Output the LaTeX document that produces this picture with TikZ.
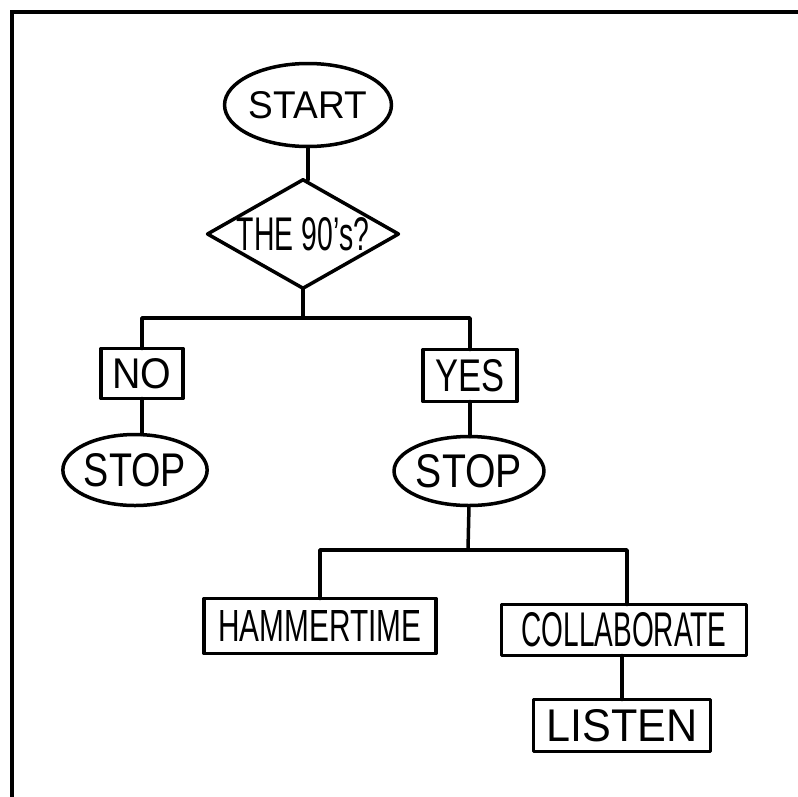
\documentclass[tikz,border=0pt]{standalone}
\usepackage{fontspec}
\setmainfont{Liberation Sans}
\usetikzlibrary{shapes.geometric}
\newcommand{\lbl}[3]{\resizebox{#1pt}{#2pt}{#3}}
\begin{document}
\begin{tikzpicture}[x=1pt,y=-1pt,
  ink/.style={line width=3.5pt, line join=round, line cap=round},
  flowbox/.style={draw, ink, rectangle, inner sep=0pt, outer sep=0pt},
  flowoval/.style={draw, ink, ellipse, inner sep=0pt, outer sep=0pt},
  flowdia/.style={draw, ink, diamond, inner sep=0pt, outer sep=0pt, aspect=1.76},
  conn/.style={ink}]
\useasboundingbox (0,0) rectangle (798,796);
% frame (only top and left edges visible)
\draw[line width=4pt] (11.5,800) -- (11.5,11.5) -- (802,11.5);

\node[flowoval, minimum width=148pt, minimum height=83pt] (start) at (308,105) {\lbl{118}{27}{START}};
\node[flowdia, minimum width=186pt, minimum height=104pt] (dia) at (303,234) {\lbl{132}{33}{THE 90's?}};

\node[flowbox, minimum width=82pt, minimum height=50pt] (no) at (142,373.5) {\lbl{59}{30}{NO}};
\node[flowbox, minimum width=94pt, minimum height=52pt] (yes) at (470,375.5) {\lbl{69}{32}{YES}};

\node[flowoval, minimum width=141pt, minimum height=71pt] (lstop) at (135,470) {\lbl{102}{33}{STOP}};
\node[flowoval, minimum width=142pt, minimum height=69pt] (rstop) at (469,471) {\lbl{106}{33}{STOP}};

\node[flowbox, minimum width=232pt, minimum height=55pt] (ham) at (320,626) {\lbl{203}{31}{HAMMERTIME}};
\node[flowbox, minimum width=245pt, minimum height=51pt] (col) at (624,630) {\lbl{205}{34}{COLLABORATE}};
\node[flowbox, minimum width=177pt, minimum height=52pt] (lis) at (622,725.5) {\lbl{151}{32}{LISTEN}};

\coordinate (bus1) at (303,318);
\coordinate (bus2) at (468,550);

\draw[conn] (start.south) -- (start.south |- dia.north);
\draw[conn] (dia.south) -- (bus1);
\draw[conn] (no.north) |- (bus1) -| (yes.north);
\draw[conn] (no.south) -- (no.south |- lstop.north);
\draw[conn] (yes.south) -- (yes.south |- rstop.north);
\draw[conn] (rstop.south) -- (bus2);
\draw[conn] (ham.north) |- (bus2) -| ([xshift=3pt]col.north);
\draw[conn] (lis.north) -- (lis.north |- col.south);
\end{tikzpicture}
\end{document}
